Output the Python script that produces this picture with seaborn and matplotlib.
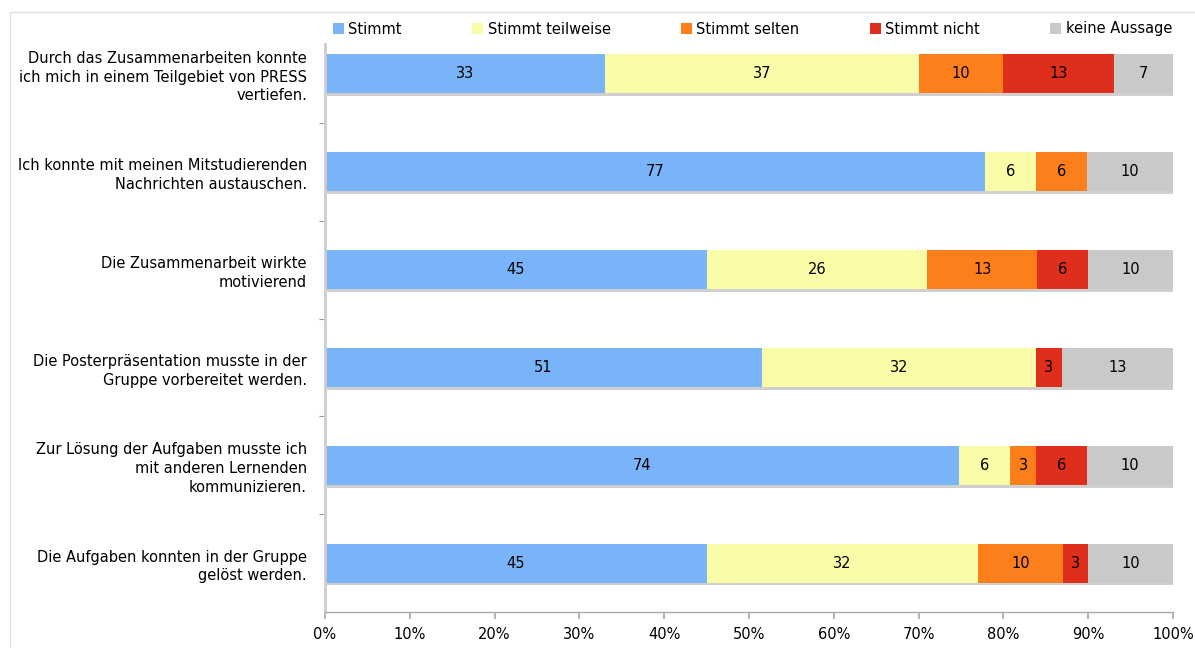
import numpy as np
import pandas as pd
import seaborn as sns
import matplotlib.pyplot as plt
import matplotlib.patheffects as pe
from matplotlib.patches import Patch, Rectangle
from matplotlib.ticker import PercentFormatter

# Daten (Anzahl Nennungen in %, wie im Diagramm beschriftet)
aussagen = [
    "Durch das Zusammenarbeiten konnte\nich mich in einem Teilgebiet von PRESS\nvertiefen.",
    "Ich konnte mit meinen Mitstudierenden\nNachrichten austauschen.",
    "Die Zusammenarbeit wirkte\nmotivierend",
    "Die Posterpräsentation musste in der\nGruppe vorbereitet werden.",
    "Zur Lösung der Aufgaben musste ich\nmit anderen Lernenden\nkommunizieren.",
    "Die Aufgaben konnten in der Gruppe\ngelöst werden.",
]
antworten = ["Stimmt", "Stimmt teilweise", "Stimmt selten", "Stimmt nicht", "keine Aussage"]
stimmt = [33, 77, 45, 51, 74, 45]
teilweise = [37, 6, 26, 32, 6, 32]
selten = [10, 6, 13, 0, 3, 10]
nicht = [13, 0, 6, 3, 6, 3]
keine = [7, 10, 10, 13, 10, 10]

farben = ["#7ab4f8", "#fafca8", "#fd7f1c", "#e02e1c", "#c9c9c9"]

sns.set_theme(style="white")
plt.rcParams["font.family"] = ["DejaVu Sans"]
plt.rcParams["text.color"] = "black"
plt.rcParams["xtick.color"] = "black"
plt.rcParams["ytick.color"] = "black"

werte = np.array([stimmt, teilweise, selten, nicht, keine], dtype=float)
anteile = werte / werte.sum(axis=0) * 100   # auf 100% normiert
kumuliert = np.cumsum(anteile, axis=0)

df = pd.DataFrame({"Aussage": aussagen})
for i, name in enumerate(antworten):
    df[name] = kumuliert[i]

fig = plt.figure(figsize=(11.95, 6.48), dpi=100)
ax = fig.add_axes([325 / 1195, 1 - 612 / 648, 848 / 1195, 587 / 648])

# gestapelt: von hinten (Summe) nach vorne zeichnen
for i in reversed(range(len(antworten))):
    sns.barplot(data=df, x=antworten[i], y="Aussage", color=farben[i], orient="h",
                width=0.4, saturation=1, linewidth=0, ax=ax)
    if i == len(antworten) - 1:
        # leichter Schatten nur unter dem ganzen Balken
        for p in ax.patches:
            p.set_path_effects([pe.SimplePatchShadow(offset=(1.5, -2), shadow_rgbFace="#c4c4c4",
                                                     alpha=0.8), pe.Normal()])

# Beschriftungen in den Segmenten
for i in range(len(antworten)):
    for j in range(len(aussagen)):
        if werte[i, j] > 0:
            mitte = kumuliert[i, j] - anteile[i, j] / 2
            ax.text(mitte, j, f"{int(werte[i, j])}", ha="center", va="center",
                    fontsize=10.5, color="black")

ax.set_xlim(0, 100)
ax.set_ylim(5.5, -0.5)
ax.set_xticks(range(0, 101, 10))
ax.xaxis.set_major_formatter(PercentFormatter(decimals=0))
ax.set_xlabel("")
ax.set_ylabel("")

ax.tick_params(axis="x", bottom=True, length=5, color="#aaaaaa", labelcolor="black",
               labelsize=10.5, pad=6)
ax.tick_params(axis="y", which="major", left=False, length=0, labelcolor="black",
               labelsize=10.5, pad=13)
for lbl in ax.get_yticklabels():
    lbl.set_linespacing(1.3)
ax.set_yticks(np.arange(0.5, 5, 1), minor=True)
ax.tick_params(axis="y", which="minor", left=True, length=4, color="#999999", width=0.8)

for s in ["top", "right"]:
    ax.spines[s].set_visible(False)
ax.spines["left"].set_color("#cccccc")
ax.spines["left"].set_linewidth(2)
ax.spines["left"].set_bounds(-0.31, 5.5)
ax.spines["bottom"].set_color("#aaaaaa")
ax.spines["bottom"].set_linewidth(1)

handles = [Patch(facecolor=c, edgecolor="none", label=n) for c, n in zip(farben, antworten)]
fig.legend(handles=handles, loc="center", ncol=5, mode="expand", frameon=False,
           bbox_to_anchor=(333 / 1195, 1 - 29 / 648 - 0.02, 839 / 1195, 0.04),
           handlelength=0.75, handleheight=0.75, handletextpad=0.3,
           borderaxespad=0, borderpad=0, fontsize=10.5)

# heller Rahmen um das Diagramm
fig.patches.append(Rectangle((10 / 1195, -0.1), 1.1, 1 - 12 / 648 + 0.1, transform=fig.transFigure,
                             fill=False, edgecolor="#e0e0e0", linewidth=1))

fig.savefig("out.png", dpi=100)
